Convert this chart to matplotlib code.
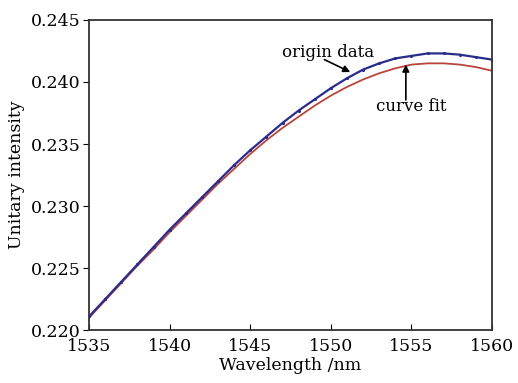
import matplotlib
matplotlib.use("Agg")
import matplotlib.pyplot as plt

# wavelength (nm) and normalised intensities
wavelength = [1535, 1536, 1537, 1538, 1539, 1540, 1541, 1542, 1543, 1544,
              1545, 1546, 1547, 1548, 1549, 1550, 1551, 1552, 1553, 1554,
              1555, 1556, 1557, 1558, 1559, 1560]
origin_data = [0.2211, 0.2225, 0.2239, 0.2253, 0.2267, 0.2281, 0.2294, 0.2307,
               0.2320, 0.2333, 0.2345, 0.2356, 0.2367, 0.2377, 0.2386, 0.2395,
               0.2403, 0.2410, 0.2415, 0.2419, 0.2421, 0.2423, 0.2423, 0.2422,
               0.2420, 0.2418]
curve_fit = [0.2210, 0.2224, 0.2238, 0.2252, 0.2265, 0.2279, 0.2292, 0.2305,
             0.2318, 0.2330, 0.2342, 0.2353, 0.2363, 0.2372, 0.2381, 0.2389,
             0.2396, 0.2402, 0.2407, 0.2411, 0.2414, 0.2415, 0.2415, 0.2414,
             0.2412, 0.2409]
x_ticks = [1535, 1540, 1545, 1550, 1555, 1560]
y_ticks = [0.220, 0.225, 0.230, 0.235, 0.240, 0.245]

plt.rcParams["font.family"] = ["DejaVu Serif"]

fig = plt.figure(figsize=(5.18, 3.83), dpi=100)
ax = fig.add_axes([0.172, 0.138, 0.778, 0.810])

ax.plot(wavelength, curve_fit, color="#b8453b", linewidth=1.3)
ax.plot(wavelength, origin_data, color="#2b2b8c", linewidth=1.6,
        marker=".", markersize=2.5)

# labels and their arrows
arrow = dict(arrowstyle="-|>", color="black", lw=1.2, shrinkA=0, shrinkB=0)
ax.text(1549.8, 0.2424, "origin data", ha="center", va="center", fontsize=12)
ax.annotate("", xy=(1551.2, 0.2408), xytext=(1549.6, 0.2418), arrowprops=arrow)
ax.text(1555.0, 0.2380, "curve fit", ha="center", va="center", fontsize=12)
ax.annotate("", xy=(1554.65, 0.2414), xytext=(1554.65, 0.23855), arrowprops=arrow)

ax.set_xlim(1535, 1560)
ax.set_ylim(0.220, 0.245)
ax.set_xticks(x_ticks)
ax.set_yticks(y_ticks)
ax.set_yticklabels([f"{v:.3f}" for v in y_ticks])
ax.tick_params(axis="x", direction="in", length=4, labelsize=12.5, pad=6)
ax.tick_params(axis="y", direction="out", length=4, labelsize=12.5, pad=2)
ax.set_xlabel("Wavelength /nm", fontsize=12.5, labelpad=1)
ax.set_ylabel("Unitary intensity", fontsize=12.5, labelpad=4)
for s in ax.spines.values():
    s.set_linewidth(1.3)
    s.set_color("#333333")

fig.savefig("out.png", dpi=100)
